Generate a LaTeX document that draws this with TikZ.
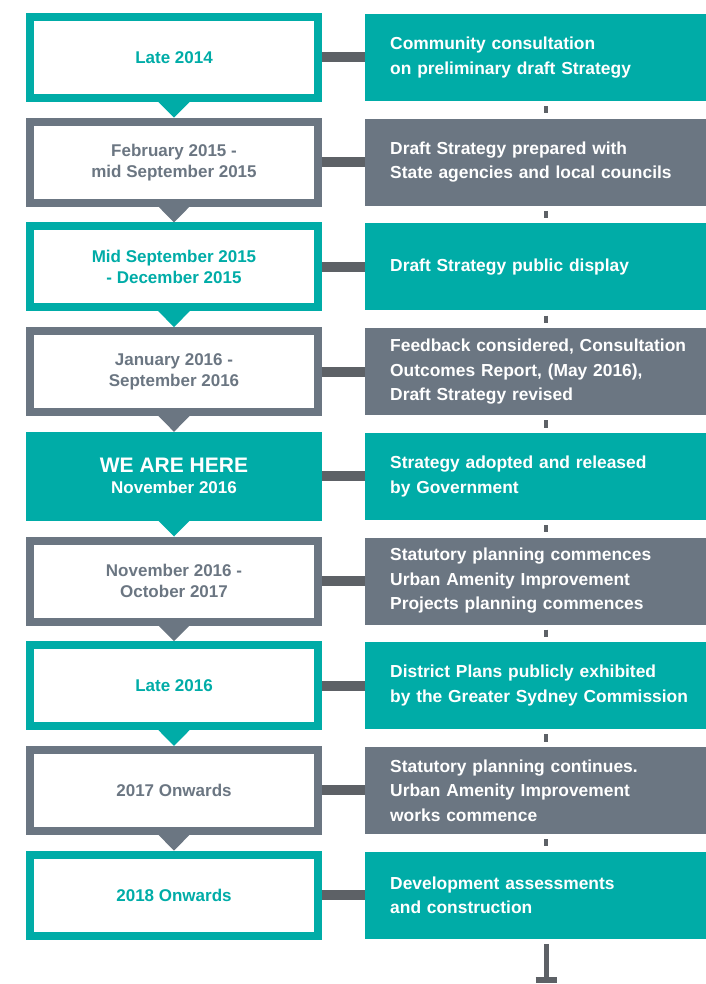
\documentclass[tikz,border=0pt]{standalone}
\usepackage{fontspec}
\setmainfont{Liberation Sans}
\usepackage{tikz}
\usetikzlibrary{positioning}

\definecolor{sdteal}{RGB}{0,172,167}
\definecolor{sdgrey}{RGB}{107,118,130}
\definecolor{sdlink}{RGB}{93,97,102}

\tikzset{
  when/.style={draw=#1, line width=8pt, text=#1, minimum width=288pt, minimum height=81pt,
    align=center, font=\bfseries\fontsize{17}{21}\selectfont},
  here/.style={when=sdteal, fill=sdteal, text=white},
  what/.style={fill=#1, text=white, minimum width=362pt, minimum height=87pt, text width=312pt,
    inner xsep=25pt, align=left, font=\bfseries\fontsize{17.4}{24.5}\selectfont},
  link/.style={sdlink, line width=10pt},
  tick/.style={sdlink, line width=3.5pt, shorten <=5pt, shorten >=5pt},
}

\begin{document}
\begin{tikzpicture}[x=1pt, y=1pt]
\useasboundingbox (0,0) rectangle (705,-984);

\node[when=sdteal] (L1) at (174,-57.5) {Late 2014};
\node[when=sdgrey, below=15.7pt of L1] (L2) {February 2015 -\\mid September 2015};
\node[when=sdteal, below=15.7pt of L2] (L3) {Mid September 2015\\- December 2015};
\node[when=sdgrey, below=15.7pt of L3] (L4) {January 2016 -\\September 2016};
\node[here, below=15.7pt of L4] (L5) {{\fontsize{21}{24}\selectfont WE ARE HERE}\\November 2016};
\node[when=sdgrey, below=15.7pt of L5] (L6) {November 2016 -\\October 2017};
\node[when=sdteal, below=15.7pt of L6] (L7) {Late 2016};
\node[when=sdgrey, below=15.7pt of L7] (L8) {2017 Onwards};
\node[when=sdteal, below=15.7pt of L8] (L9) {2018 Onwards};

\node[what=sdteal, right=43pt of L1] (R1) {Community consultation\\on preliminary draft Strategy};
\node[what=sdgrey, right=43pt of L2] (R2) {Draft Strategy prepared with\\State agencies and local councils};
\node[what=sdteal, right=43pt of L3] (R3) {Draft Strategy public display};
\node[what=sdgrey, right=43pt of L4] (R4) {Feedback considered, Consultation\\Outcomes Report, (May 2016),\\Draft Strategy revised};
\node[what=sdteal, right=43pt of L5] (R5) {Strategy adopted and released\\by Government};
\node[what=sdgrey, right=43pt of L6] (R6) {Statutory planning commences\\Urban Amenity Improvement\\Projects planning commences};
\node[what=sdteal, right=43pt of L7] (R7) {District Plans publicly exhibited\\by the Greater Sydney Commission};
\node[what=sdgrey, right=43pt of L8] (R8) {Statutory planning continues.\\Urban Amenity Improvement\\works commence};
\node[what=sdteal, right=43pt of L9] (R9) {Development assessments\\and construction};

\fill[sdteal] ([xshift=-16.5pt,yshift=1pt]L1.south) -- ([xshift=16.5pt,yshift=1pt]L1.south) -- (L2.north) -- cycle;
\fill[sdgrey] ([xshift=-16.5pt,yshift=1pt]L2.south) -- ([xshift=16.5pt,yshift=1pt]L2.south) -- (L3.north) -- cycle;
\fill[sdteal] ([xshift=-16.5pt,yshift=1pt]L3.south) -- ([xshift=16.5pt,yshift=1pt]L3.south) -- (L4.north) -- cycle;
\fill[sdgrey] ([xshift=-16.5pt,yshift=1pt]L4.south) -- ([xshift=16.5pt,yshift=1pt]L4.south) -- (L5.north) -- cycle;
\fill[sdteal] ([xshift=-16.5pt,yshift=1pt]L5.south) -- ([xshift=16.5pt,yshift=1pt]L5.south) -- (L6.north) -- cycle;
\fill[sdgrey] ([xshift=-16.5pt,yshift=1pt]L6.south) -- ([xshift=16.5pt,yshift=1pt]L6.south) -- (L7.north) -- cycle;
\fill[sdteal] ([xshift=-16.5pt,yshift=1pt]L7.south) -- ([xshift=16.5pt,yshift=1pt]L7.south) -- (L8.north) -- cycle;
\fill[sdgrey] ([xshift=-16.5pt,yshift=1pt]L8.south) -- ([xshift=16.5pt,yshift=1pt]L8.south) -- (L9.north) -- cycle;

\draw[link] (L1.east) -- (R1.west);
\draw[link] (L2.east) -- (R2.west);
\draw[link] (L3.east) -- (R3.west);
\draw[link] (L4.east) -- (R4.west);
\draw[link] (L5.east) -- (R5.west);
\draw[link] (L6.east) -- (R6.west);
\draw[link] (L7.east) -- (R7.west);
\draw[link] (L8.east) -- (R8.west);
\draw[link] (L9.east) -- (R9.west);

\draw[tick] (R1.south) -- (R2.north);
\draw[tick] (R2.south) -- (R3.north);
\draw[tick] (R3.south) -- (R4.north);
\draw[tick] (R4.south) -- (R5.north);
\draw[tick] (R5.south) -- (R6.north);
\draw[tick] (R6.south) -- (R7.north);
\draw[tick] (R7.south) -- (R8.north);
\draw[tick] (R8.south) -- (R9.north);

\coordinate[below=41.5pt of R9.south] (stop);
\draw[sdlink, line width=5pt, shorten <=5pt] (R9.south) -- (stop);
\draw[sdlink, line width=6pt] ([xshift=-10.5pt]stop) -- ([xshift=10.5pt]stop);
\end{tikzpicture}
\end{document}
